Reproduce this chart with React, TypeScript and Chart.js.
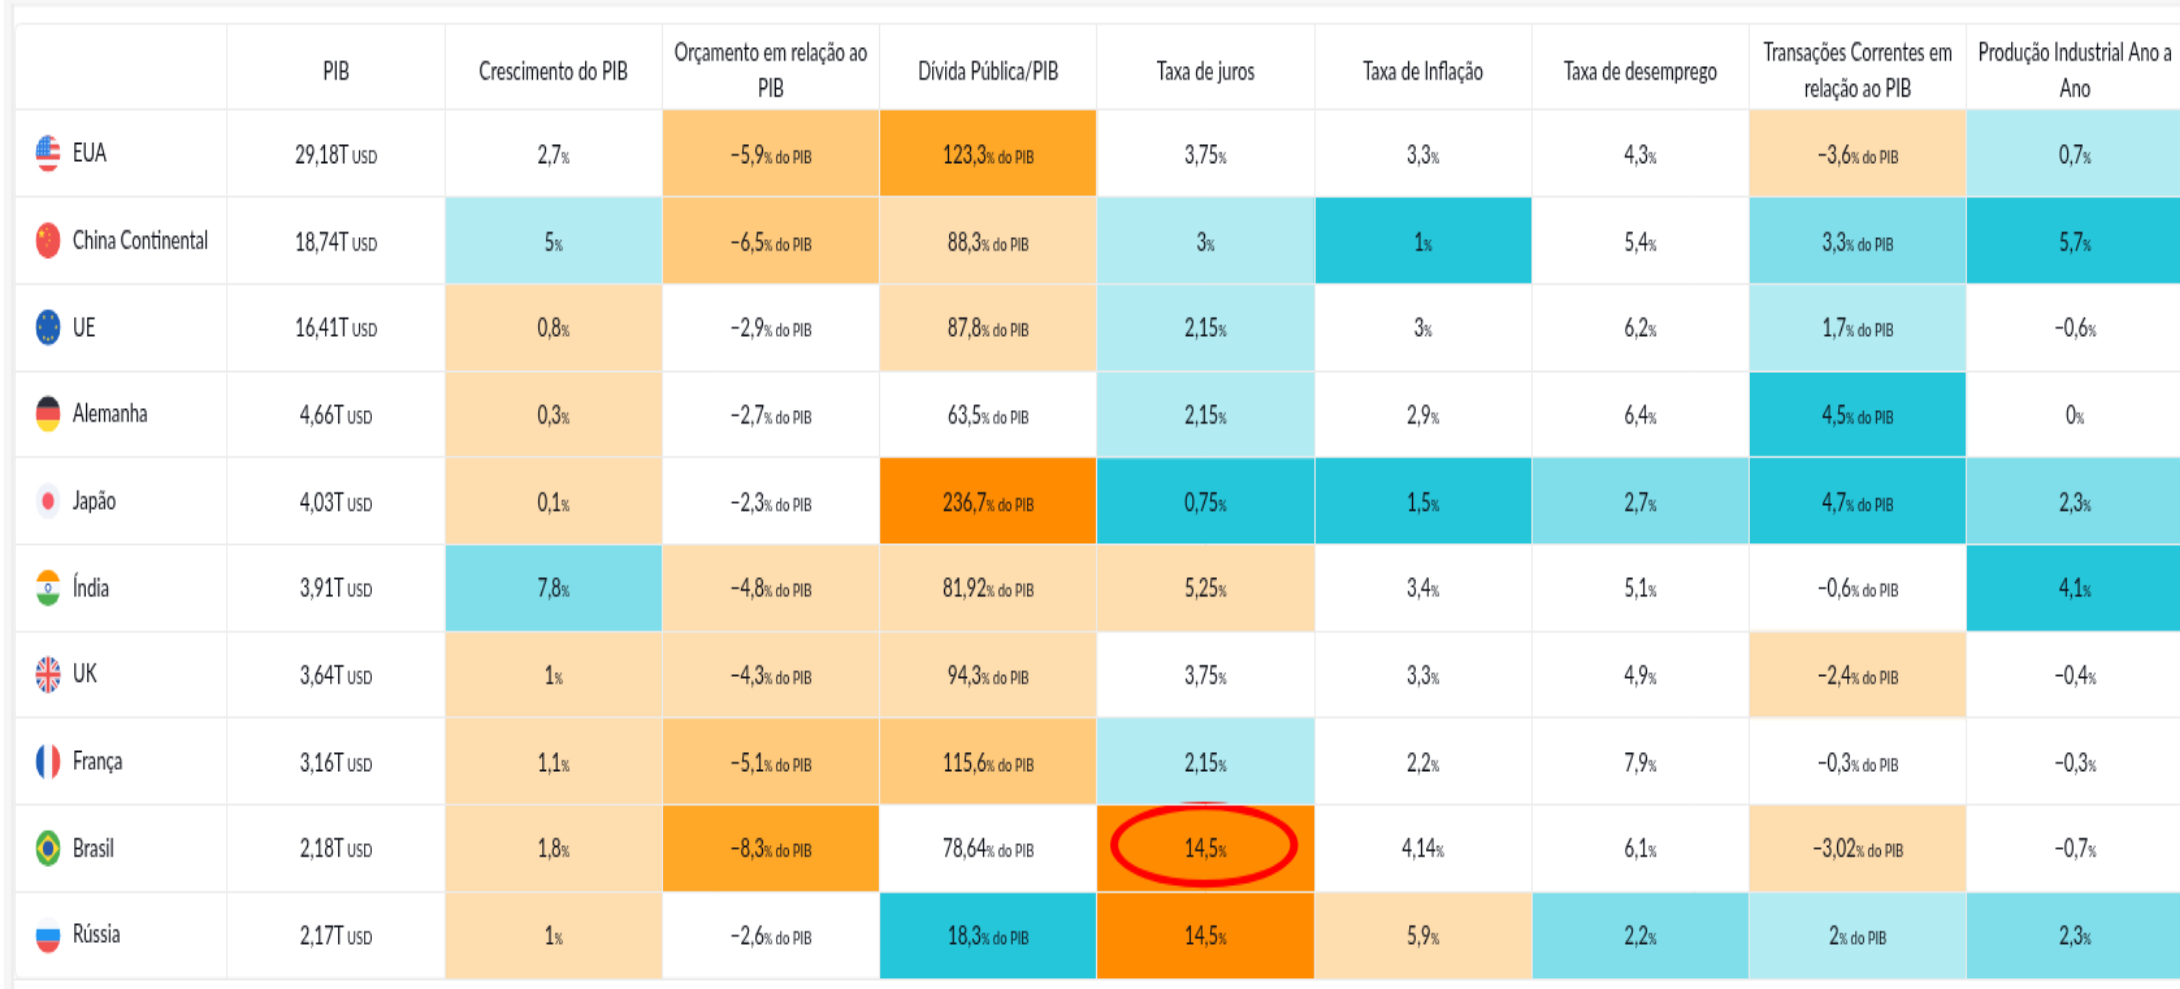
import React, { useEffect, useRef } from "react";
import { Chart, registerables } from "chart.js";

Chart.register(...registerables);

const countries = ["EUA", "China Continental", "UE", "Alemanha", "Japão", "Índia", "UK", "França", "Brasil", "Rússia"];
const columns: (string | string[])[] = [
  "PIB",
  "Crescimento do PIB",
  ["Orçamento em relação ao", "PIB"],
  "Dívida Pública/PIB",
  "Taxa de juros",
  "Taxa de Inflação",
  "Taxa de desemprego",
  ["Transações Correntes em", "relação ao PIB"],
  ["Produção Industrial Ano a", "Ano"],
];

const pib = [29.18, 18.74, 16.41, 4.66, 4.03, 3.91, 3.64, 3.16, 2.18, 2.17];
const crescimento = [2.7, 5, 0.8, 0.3, 0.1, 7.8, 1, 1.1, 1.8, 1];
const orcamento = [-5.9, -6.5, -2.9, -2.7, -2.3, -4.8, -4.3, -5.1, -8.3, -2.6];
const divida = [123.3, 88.3, 87.8, 63.5, 236.7, 81.92, 94.3, 115.6, 78.64, 18.3];
const juros = [3.75, 3, 2.15, 2.15, 0.75, 5.25, 3.75, 2.15, 14.5, 14.5];
const inflacao = [3.3, 1, 3, 2.9, 1.5, 3.4, 3.3, 2.2, 4.14, 5.9];
const desemprego = [4.3, 5.4, 6.2, 6.4, 2.7, 5.1, 4.9, 7.9, 6.1, 2.2];
const transacoes = [-3.6, 3.3, 1.7, 4.5, 4.7, -0.6, -2.4, -0.3, -3.02, 2];
const producao = [0.7, 5.7, -0.6, 0, 2.3, 4.1, -0.4, -0.3, -0.7, 2.3];
const columnValues = [pib, crescimento, orcamento, divida, juros, inflacao, desemprego, transacoes, producao];

const units = [" USD", "%", "% do PIB", "% do PIB", "%", "%", "%", "% do PIB", "%"];

// heat class per cell: 0 none, negative = orange scale, positive = teal scale
const heatEUA = [0, 0, -2, -3, 0, 0, 0, -1, 1];
const heatChina = [0, 1, -2, -1, 1, 3, 0, 2, 3];
const heatUE = [0, -1, 0, -1, 1, 0, 0, 1, 0];
const heatAlemanha = [0, -1, 0, 0, 1, 0, 0, 3, 0];
const heatJapao = [0, -1, 0, -4, 3, 3, 2, 3, 2];
const heatIndia = [0, 2, -1, -1, -1, 0, 0, 0, 3];
const heatUK = [0, -1, -1, -1, 0, 0, 0, -1, 0];
const heatFranca = [0, -1, -2, -2, 1, 0, 0, 0, 0];
const heatBrasil = [0, -1, -3, 0, -4, 0, 0, -1, 0];
const heatRussia = [0, -1, 0, 3, -4, -1, 2, 1, 2];
const heat = [heatEUA, heatChina, heatUE, heatAlemanha, heatJapao, heatIndia, heatUK, heatFranca, heatBrasil, heatRussia];

const palette: Record<string, string> = {
  "-4": "#FF8C00",
  "-3": "#FFA726",
  "-2": "#FFCA7C",
  "-1": "#FEDDAF",
  "0": "rgba(255,255,255,0)",
  "1": "#B2EBF2",
  "2": "#80DEEA",
  "3": "#26C6DA",
};

const SX = 1.3;
const SY = 1.9;
const FONT = "Lato";
const MAIN_SIZE = 13.2;
const INK = "#0e1119";
const LINE = "#ececec";

function fmt(v: number) {
  const s = String(Math.abs(v)).replace(".", ",");
  return (v < 0 ? "−" : "") + s;
}

function star(ctx: CanvasRenderingContext2D, x: number, y: number, r: number) {
  ctx.beginPath();
  for (let i = 0; i < 10; i++) {
    const a = -Math.PI / 2 + (i * Math.PI) / 5;
    const rr = i % 2 ? r * 0.45 : r;
    ctx.lineTo(x + Math.cos(a) * rr, y + Math.sin(a) * rr);
  }
  ctx.closePath();
  ctx.fill();
}

function drawFlag(ctx: CanvasRenderingContext2D, name: string, cx: number, cy: number, r: number) {
  ctx.save();
  ctx.beginPath();
  ctx.arc(cx, cy, r, 0, Math.PI * 2);
  ctx.clip();
  const x0 = cx - r, y0 = cy - r, d = r * 2;
  const rect = (c: string, x: number, y: number, w: number, h: number) => {
    ctx.fillStyle = c;
    ctx.fillRect(x, y, w, h);
  };
  const red = "#F0524F", blue = "#1E5FB8", white = "#F6F8FC", green = "#4CAF50", yellow = "#FFD935";
  if (name === "EUA") {
    rect(white, x0, y0, d, d);
    rect("#F0524F", x0, y0, d, d * 0.12);
    rect("#F0524F", x0, y0 + d * 0.24, d, d * 0.14);
    rect("#F0524F", x0, y0 + d * 0.52, d, d * 0.14);
    rect("#F0524F", x0, y0 + d * 0.82, d, d * 0.18);
    rect("#2F80E4", x0, y0, d * 0.58, d * 0.56);
    for (let i = 0; i < 4; i++) for (let j = 0; j < 4; j++) rect("#DCE9FA", x0 + 1.5 + i * 2.6, y0 + 1.5 + j * 2.5, 1, 1);
  } else if (name === "China Continental") {
    rect(red, x0, y0, d, d);
    ctx.fillStyle = yellow;
    star(ctx, cx - 5, cy - 3.5, 2.8);
    for (const [a, b] of [[-1, -6], [1, -3], [1, 0], [-1, 2.5]]) star(ctx, cx + a, cy + b, 1);
  } else if (name === "UE") {
    rect(blue, x0, y0, d, d);
    ctx.fillStyle = yellow;
    for (let i = 0; i < 12; i++) {
      const a = (i * Math.PI) / 6;
      if (i % 2 === 0 || i === 3) star(ctx, cx + Math.cos(a) * 6.2, cy + Math.sin(a) * 6.2, 1.3);
    }
  } else if (name === "Alemanha") {
    rect("#2B2D38", x0, y0, d, d / 3);
    rect(red, x0, y0 + d / 3, d, d / 3);
    rect(yellow, x0, y0 + (2 * d) / 3, d, d / 3);
  } else if (name === "Japão") {
    rect("#EFF2F9", x0, y0, d, d);
    ctx.fillStyle = "#F95A68";
    ctx.beginPath();
    ctx.arc(cx, cy, 4.5, 0, Math.PI * 2);
    ctx.fill();
  } else if (name === "Índia") {
    rect("#FF9800", x0, y0, d, d / 3);
    rect(white, x0, y0 + d / 3, d, d / 3);
    rect(green, x0, y0 + (2 * d) / 3, d, d / 3);
    ctx.strokeStyle = "#2A5BA8";
    ctx.lineWidth = 1;
    ctx.beginPath();
    ctx.arc(cx, cy, 2, 0, Math.PI * 2);
    ctx.stroke();
  } else if (name === "UK") {
    rect("#1E4FA0", x0, y0, d, d);
    ctx.strokeStyle = white;
    ctx.lineWidth = 3.5;
    ctx.beginPath();
    ctx.moveTo(x0, y0); ctx.lineTo(x0 + d, y0 + d);
    ctx.moveTo(x0 + d, y0); ctx.lineTo(x0, y0 + d);
    ctx.stroke();
    ctx.strokeStyle = red;
    ctx.lineWidth = 1.2;
    ctx.stroke();
    rect(white, cx - 2.5, y0, 5, d);
    rect(white, x0, cy - 2.5, d, 5);
    rect(red, cx - 1.3, y0, 2.6, d);
    rect(red, x0, cy - 1.3, d, 2.6);
  } else if (name === "França") {
    rect(blue, x0, y0, d / 3, d);
    rect(white, x0 + d / 3, y0, d / 3, d);
    rect(red, x0 + (2 * d) / 3, y0, d / 3, d);
  } else if (name === "Brasil") {
    rect(green, x0, y0, d, d);
    ctx.fillStyle = yellow;
    ctx.beginPath();
    ctx.moveTo(cx, y0 + 2.5); ctx.lineTo(x0 + d - 1, cy); ctx.lineTo(cx, y0 + d - 2.5); ctx.lineTo(x0 + 1, cy);
    ctx.closePath();
    ctx.fill();
    ctx.fillStyle = "#2A5BA8";
    ctx.beginPath();
    ctx.arc(cx, cy, 4, 0, Math.PI * 2);
    ctx.fill();
  } else if (name === "Rússia") {
    rect(white, x0, y0, d, d / 3);
    rect("#2196F3", x0, y0 + d / 3, d, d / 3);
    rect(red, x0, y0 + (2 * d) / 3, d, d / 3);
  }
  ctx.restore();
}

const tablePlugin = {
  id: "tablePlugin",
  beforeDraw(chart: any) {
    const { ctx, width, height } = chart;
    ctx.save();
    ctx.fillStyle = "#fff";
    ctx.fillRect(0, 0, width, height);
    // page chrome around the table
    ctx.fillStyle = "#f6f6f6";
    ctx.fillRect(3, 0, width, 2.3);
    ctx.fillRect(3, 0, 5.8, height);
    ctx.fillStyle = "#ebebeb";
    ctx.fillRect(8, 2.3, width, 1.3);
    ctx.fillRect(8.8, 2.3, 2, height);
    ctx.fillStyle = "#fff";
    ctx.fillRect(10.8, 3.6, width, height);
    ctx.strokeStyle = LINE;
    ctx.lineWidth = 1;
    ctx.beginPath();
    ctx.roundRect(11.5, 12.5, width, chart.chartArea.bottom - 12.5, 4);
    ctx.stroke();
    ctx.restore();
  },
  afterDatasetsDraw(chart: any) {
    const { ctx, scales } = chart;
    const ys = scales.y;
    const xs = scales.x;
    ctx.save();
    ctx.fillStyle = INK;
    ctx.textBaseline = "alphabetic";
    ctx.textAlign = "left";
    columnValues.forEach((vals, c) => {
      const cx = xs.getPixelForValue(c);
      vals.forEach((v, r) => {
        const base = ys.getPixelForValue(r) + 5;
        const main = fmt(v) + (c === 0 ? "T" : "");
        const unit = units[c];
        ctx.font = `${MAIN_SIZE}px ${FONT}`;
        const w1 = ctx.measureText(main).width;
        let pct = "", rest = unit;
        if (unit.startsWith("%")) { pct = "%"; rest = unit.slice(1); }
        ctx.font = `8px ${FONT}`;
        const w2 = pct ? ctx.measureText(pct).width : 0;
        ctx.font = `9.5px ${FONT}`;
        const w3 = rest ? ctx.measureText(rest).width : 0;
        let x = cx - (w1 + w2 + w3) / 2;
        ctx.font = `${MAIN_SIZE}px ${FONT}`;
        ctx.fillText(main, x, base);
        x += w1;
        if (pct) {
          ctx.font = `8px ${FONT}`;
          ctx.fillText(pct, x, base);
          x += w2;
        }
        if (rest) {
          ctx.font = `9.5px ${FONT}`;
          ctx.fillText(rest, x, base);
        }
      });
    });
    countries.forEach((name, r) => {
      drawFlag(ctx, name, 37, ys.getPixelForValue(r), 9.6);
    });
    // red highlight ellipse around Brasil / Taxa de juros
    const ex = xs.getPixelForValue(4) - 1.2;
    const ey = ys.getPixelForValue(8) - 1.8;
    ctx.fillStyle = "#FF0000";
    ctx.beginPath();
    ctx.ellipse(ex, ey, 94 / SX, 43 / SY, 0, 0, Math.PI * 2);
    ctx.ellipse(ex, ey, 86 / SX, 35 / SY, 0, 0, Math.PI * 2);
    ctx.fill("evenodd");
    ctx.restore();
  },
};

export default function App() {
  const ref = useRef<HTMLCanvasElement>(null);
  useEffect(() => {
    const chart = new Chart(ref.current as HTMLCanvasElement, {
      type: "bar",
      data: {
        labels: columns as any,
        datasets: countries.map((name, r) => ({
          label: name,
          data: columns.map(() => 1),
          yAxisID: "yv",
          backgroundColor: heat[r].map((h) => palette[String(h)]),
          borderWidth: 0,
          barPercentage: 1,
          categoryPercentage: 1,
        })),
      },
      options: {
        animation: false,
        responsive: false,
        devicePixelRatio: 1,
        events: [],
        layout: { padding: { left: 56, top: 12, right: 0, bottom: 6 } },
        plugins: { legend: { display: false }, tooltip: { enabled: false }, title: { display: false } },
        scales: {
          x: {
            type: "category",
            position: "top",
            stacked: true,
            offset: true,
            afterFit: (s: any) => { s.height = 46; },
            border: { display: false },
            grid: { color: LINE, lineWidth: 1, offset: true, z: 1, tickLength: 46 },
            ticks: {
              autoSkip: false, maxRotation: 0, minRotation: 0,
              crossAlign: "center",
              padding: -34.5,
              color: INK,
              font: { family: FONT, size: MAIN_SIZE, lineHeight: 1.4 },
            },
          },
          y: {
            type: "category",
            position: "left",
            labels: countries,
            offset: true,
            afterFit: (s: any) => { s.width = 119; s.paddingTop = 0; s.paddingBottom = 0; },
            border: { display: false },
            grid: { color: LINE, lineWidth: 1, offset: true, z: 1, tickLength: 164 },
            ticks: {
              autoSkip: false,
              crossAlign: "far",
              color: INK,
              font: { family: FONT, size: MAIN_SIZE },
            },
          },
          yv: { type: "linear", display: false, stacked: true, reverse: true, min: 0, max: 10 },
        },
      } as any,
      plugins: [tablePlugin],
    });
    return () => chart.destroy();
  }, []);
  return (
    <div style={{ position: "fixed", left: 0, top: 0, width: 2180, height: 989, overflow: "hidden", background: "#fff" }}>
      <canvas
        ref={ref}
        width={1680}
        height={521}
        style={{ display: "block", transformOrigin: "0 0", transform: `scale(${SX}, ${SY})` }}
      />
    </div>
  );
}
